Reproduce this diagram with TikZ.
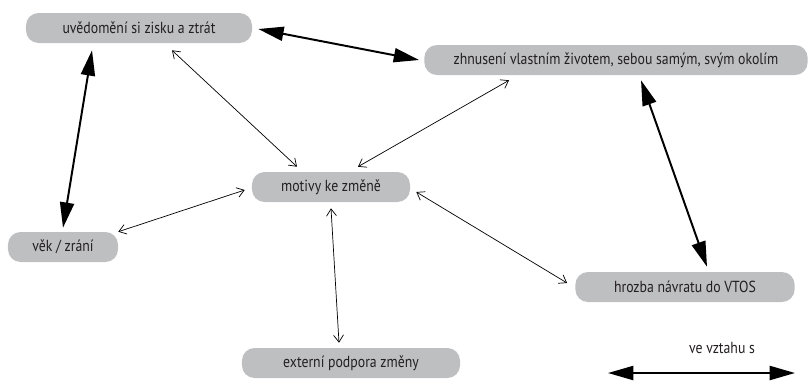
\documentclass[tikz,border=0pt]{standalone}
\usepackage{fontspec}
\setmainfont{PT Sans}[FakeStretch=0.86]
\usepackage{xcolor}
\usetikzlibrary{arrows.meta,positioning,calc}
\definecolor{boxgray}{RGB}{190,191,193}
\definecolor{txtgray}{RGB}{35,31,32}

\begin{document}
\begin{tikzpicture}[x=0.025cm, y=-0.025cm,
    pojem/.style={fill=boxgray, rounded corners=9pt, minimum height=0.75cm, inner sep=0pt,
        text=txtgray, font=\fontsize{11.4}{13}\selectfont},
    silna/.style={{Triangle[length=18pt,width=10pt]}-{Triangle[length=18pt,width=10pt]}, line width=1.4pt},
    slaba/.style={{Straight Barb[length=5pt,width=7pt]}-{Straight Barb[length=5pt,width=7pt]}, line width=0.5pt}]
    \useasboundingbox (0,0) rectangle (808,384);

    % Pojmy
    \node[pojem, minimum width=5.65cm] (uved) at (139,28) {uvědomění si zisku a ztrát};
    \node[pojem, minimum width=9.58cm] (zhnus) at (616,60) {zhnusení vlastním životem, sebou samým, svým okolím};
    \node[pojem, minimum width=3.95cm] (motiv) at (331,187) {motivy ke změně};
    \node[pojem, minimum width=2.75cm] (vek) at (63,247) {věk / zrání};
    \node[pojem, minimum width=5.48cm] (hrozba) at (685,287) {hrozba návratu do VTOS};
    \node[pojem, minimum width=5.45cm] (extern) at (351,363) {externí podpora změny};

    % Silné vztahy
    \draw[silna] ([shift={(6,1)}]uved.east) -- ([shift={(-5,0)}]zhnus.west);
    \draw[silna] ([shift={(-47,7)}]uved.south) -- ([shift={(0,-4)}]vek.north);
    \draw[silna] ([shift={(25,5)}]zhnus.south) -- ([shift={(22,-5)}]hrozba.north);

    % Vztahy k motivům
    \draw[slaba] ([shift={(33,7)}]uved.south) -- ([shift={(-34,-5)}]motiv.north);
    \draw[slaba] ([shift={(-107,5)}]zhnus.south) -- ([shift={(27,-5)}]motiv.north);
    \draw[slaba] ([shift={(-7,3)}]motiv.west) -- (vek.north east);
    \draw[slaba] ([shift={(6,5)}]motiv.east) -- ([shift={(-8,-4)}]hrozba.west);
    \draw[slaba] ([shift={(0,6)}]motiv.south) -- ([shift={(-12,-5)}]extern.north);

    % Legenda
    \coordinate (legL) at (608,373);
    \coordinate (legR) at (795,373);
    \draw[silna] (legL) -- (legR);
    \node[text=txtgray, font=\fontsize{11.4}{13}\selectfont] (leg) at (722,348) {ve vztahu s};
\end{tikzpicture}
\end{document}
